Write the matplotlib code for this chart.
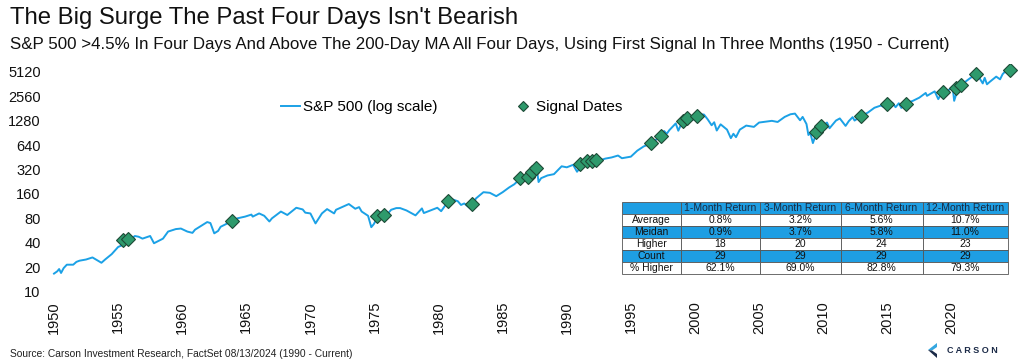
import matplotlib
matplotlib.use("Agg")
import matplotlib.pyplot as plt
from matplotlib.patches import Polygon

# ---------------- data ----------------
spx_years = [1950.0, 1950.25, 1950.4, 1950.55, 1950.75, 1951.0, 1951.25, 1951.5, 1951.75, 1952.0,
             1952.5, 1953.0, 1953.7, 1954.0, 1954.5, 1955.0, 1955.4, 1955.7, 1955.75, 1956.0,
             1956.3, 1956.6, 1956.9, 1957.5, 1957.8, 1958.0, 1958.5, 1958.9, 1959.5, 1959.9,
             1960.4, 1960.8, 1961.0, 1961.5, 1961.95, 1962.2, 1962.5, 1962.8, 1963.0, 1963.5,
             1963.9, 1964.3, 1964.9, 1965.4, 1965.5, 1966.0, 1966.4, 1966.8, 1967.0, 1967.7,
             1968.2, 1968.9, 1969.4, 1969.6, 1970.0, 1970.4, 1970.9, 1971.3, 1971.85, 1972.0,
             1972.9, 1973.0, 1973.5, 1973.8, 1974.0, 1974.5, 1974.75, 1974.95, 1975.25, 1975.5,
             1975.7, 1976.0, 1976.3, 1976.7, 1977.0, 1977.5, 1978.2, 1978.7, 1978.85, 1979.5,
             1979.9, 1980.2, 1980.9, 1981.5, 1981.75, 1982.0, 1982.6, 1982.9, 1983.5, 1984.0,
             1984.5, 1985.0, 1985.5, 1985.9, 1986.3, 1986.7, 1987.0, 1987.65, 1987.8, 1988.0,
             1988.5, 1989.0, 1989.6, 1990.0, 1990.5, 1990.8, 1991.0, 1991.5, 1992.0, 1992.5,
             1993.0, 1993.5, 1994.0, 1994.3, 1995.0, 1995.5, 1996.0, 1996.5, 1997.0, 1997.6,
             1997.8, 1998.0, 1998.5, 1998.7, 1999.0, 1999.5, 1999.8, 2000.2, 2000.7, 2001.0,
             2001.3, 2001.5, 2001.7, 2002.0, 2002.5, 2002.8, 2003.0, 2003.2, 2003.5, 2004.0,
             2004.6, 2005.0, 2006.0, 2006.45, 2007.0, 2007.45, 2007.8, 2008.2, 2008.4, 2008.7,
             2008.85, 2009.0, 2009.2, 2009.5, 2010.0, 2010.3, 2010.5, 2011.0, 2011.3, 2011.75,
             2012.0, 2012.3, 2012.45, 2013.0, 2013.5, 2014.0, 2014.5, 2014.8, 2015.0, 2015.4,
             2015.65, 2015.9, 2016.1, 2016.5, 2017.0, 2017.5, 2018.0, 2018.1, 2018.7, 2018.98,
             2019.3, 2019.6, 2020.1, 2020.22, 2020.5, 2020.8, 2021.0, 2021.5, 2022.0, 2022.45,
             2022.6, 2022.78, 2023.0, 2023.5, 2023.8, 2024.0, 2024.25, 2024.3, 2024.52, 2024.6]
spx_values = [16.7, 17.8, 19.0, 17.0, 19.5, 21.5, 21.5, 21.5, 23.3, 24.1,
              24.9, 26.4, 22.7, 25.0, 29.0, 35.5, 37.9, 45.0, 41.0, 44.0,
              48.5, 47.5, 45.0, 48.5, 39.5, 41.0, 45.0, 55.0, 59.0, 59.9,
              55.0, 53.0, 58.0, 65.0, 72.0, 70.0, 52.3, 56.0, 63.0, 69.0,
              73.0, 80.0, 84.0, 89.0, 84.0, 92.0, 86.0, 73.2, 80.0, 97.0,
              88.0, 108.0, 103.0, 94.0, 92.0, 69.3, 92.0, 104.0, 92.0, 102.0,
              118.0, 120.0, 105.0, 110.0, 97.0, 86.0, 62.3, 68.0, 84.0, 95.0,
              83.0, 90.0, 102.0, 107.0, 107.0, 100.0, 87.0, 106.0, 93.0, 102.0,
              108.0, 98.0, 140.0, 130.0, 117.0, 122.0, 102.0, 140.0, 168.0, 165.0,
              150.0, 168.0, 192.0, 210.0, 240.0, 235.0, 245.0, 335.0, 224.0, 250.0,
              270.0, 280.0, 350.0, 340.0, 365.0, 300.0, 330.0, 375.0, 415.0, 410.0,
              435.0, 450.0, 475.0, 440.0, 460.0, 545.0, 615.0, 660.0, 750.0, 950.0,
              880.0, 975.0, 1180.0, 960.0, 1230.0, 1370.0, 1300.0, 1520.0, 1520.0, 1320.0,
              1120.0, 1220.0, 965.0, 1150.0, 990.0, 777.0, 880.0, 800.0, 990.0, 1110.0,
              1070.0, 1210.0, 1270.0, 1230.0, 1420.0, 1530.0, 1560.0, 1290.0, 1420.0, 1160.0,
              850.0, 900.0, 676.0, 920.0, 1115.0, 1210.0, 1030.0, 1280.0, 1360.0, 1100.0,
              1260.0, 1410.0, 1280.0, 1460.0, 1610.0, 1840.0, 1960.0, 1860.0, 2050.0, 2120.0,
              1870.0, 2090.0, 1830.0, 2100.0, 2240.0, 2450.0, 2800.0, 2580.0, 2930.0, 2350.0,
              2900.0, 2850.0, 3380.0, 2240.0, 3100.0, 3300.0, 3750.0, 4300.0, 4790.0, 3670.0,
              4300.0, 3580.0, 3840.0, 4450.0, 4120.0, 4770.0, 5250.0, 4970.0, 5660.0, 5340.0]

signal_years = [1955.41, 1955.80, 1963.86, 1975.22, 1975.74, 1980.71, 1982.61, 1986.35, 1986.95, 1987.26,
                1987.60, 1991.03, 1991.60, 1991.94, 1992.28, 1996.57, 1997.32, 1999.04, 1999.40, 2000.13,
                2009.44, 2009.80, 2012.97, 2014.95, 2016.46, 2019.37, 2020.36, 2020.77, 2021.92, 2024.57]
signal_values = [43.3, 45.0, 74.0, 85.6, 88.8, 131.0, 120.0, 249.0, 256.0, 294.0,
                 334.0, 372.0, 402.0, 408.0, 419.0, 672.0, 833.0, 1280.0, 1391.0, 1460.0,
                 918.0, 1099.0, 1460.0, 2066.0, 2066.0, 2900.0, 3262.0, 3520.0, 4810.0, 5375.0]

y_ticks = [10, 20, 40, 80, 160, 320, 640, 1280, 2560, 5120]
x_ticks = list(range(1950, 2021, 5))

table_columns = ["", "1-Month Return", "3-Month Return", "6-Month Return", "12-Month Return"]
table_rows = ["Average", "Meidan", "Higher", "Count", "% Higher"]
ret_1m = ["0.8%", "0.9%", "18", "29", "62.1%"]
ret_3m = ["3.2%", "3.7%", "20", "29", "69.0%"]
ret_6m = ["5.6%", "5.8%", "24", "29", "82.8%"]
ret_12m = ["10.7%", "11.0%", "23", "29", "79.3%"]

# ---------------- style ----------------
LINE_BLUE = "#1BA1E6"
TABLE_BLUE = "#1E9EE3"
GREEN = "#2E9A6C"
GREEN_EDGE = "#1D4A36"
ARIAL = ["Liberation Sans", "DejaVu Sans"]

W, H = 1024, 363
fig = plt.figure(figsize=(W / 100, H / 100), dpi=100)

def px_rect(x0, y0, x1, y1):
    return [x0 / W, 1 - y1 / H, (x1 - x0) / W, (y1 - y0) / H]

ax = fig.add_axes(px_rect(47.6, 63.8, 1018, 295.4))
ax.set_yscale("log")
ax.set_xlim(1949.5, 2025.2)
ax.set_ylim(9, 6400)

ax.plot(spx_years, spx_values, color=LINE_BLUE, lw=1.4, label="S&P 500 (log scale)", zorder=2)
ax.plot(signal_years, signal_values, ls="none", marker="D", ms=6.8, mfc=GREEN, mec=GREEN_EDGE,
        mew=0.8, label="Signal Dates", zorder=3)

ax.set_yticks(y_ticks, [str(t) for t in y_ticks])
ax.minorticks_off()
ax.set_xticks(x_ticks, [str(t) for t in x_ticks])
for lab in ax.get_yticklabels():
    lab.set_fontfamily(ARIAL)
    lab.set_fontsize(10.5)
for lab in ax.get_xticklabels():
    lab.set_fontfamily(ARIAL)
    lab.set_fontsize(10.5)
    lab.set_rotation(90)
ax.tick_params(axis="both", length=0, colors="#111111")
ax.tick_params(axis="y", pad=5)
ax.tick_params(axis="x", pad=4)
for s in ax.spines.values():
    s.set_visible(False)

leg = ax.legend(loc="center", bbox_to_anchor=(452 / W, 1 - 107 / H), bbox_transform=fig.transFigure,
                ncol=2, frameon=False, columnspacing=5.0, handlelength=1.2, handletextpad=0.25,
                markerscale=0.75, prop={"family": ARIAL, "size": 11})

# ---------------- titles ----------------
fig.text(10 / W, 1 - 18 / H, "The Big Surge The Past Four Days Isn't Bearish", fontsize=17.2,
         family=ARIAL, va="center", ha="left", color="#111111")
fig.text(10 / W, 1 - 45 / H, "S&P 500 >4.5% In Four Days And Above The 200-Day MA All Four Days, "
         "Using First Signal In Three Months (1950 - Current)", fontsize=12.2,
         family=ARIAL, va="center", ha="left", color="#111111")
fig.text(10 / W, 1 - 354 / H, "Source: Carson Investment Research, FactSet 08/13/2024 (1990 - Current)",
         fontsize=7.4, family=ARIAL, va="center", ha="left", color="#222222")

# ---------------- table ----------------
tax = fig.add_axes(px_rect(622, 201.7, 1007.5, 274))
tax.axis("off")
cell_text = [[r, a, b, c, d] for r, a, b, c, d in zip(table_rows, ret_1m, ret_3m, ret_6m, ret_12m)]
col_w = [59, 79, 80.5, 82, 85]
tot = sum(col_w)
col_w = [c / tot for c in col_w]
tbl = tax.table(cellText=cell_text, colLabels=table_columns, colWidths=col_w,
                cellLoc="center", bbox=[0, 0, 1, 1])
tbl.auto_set_font_size(False)
blue_rows = {0, 2, 4}
for (r, c), cell in tbl.get_celld().items():
    cell.set_linewidth(0.6)
    cell.set_edgecolor("#555555")
    cell.set_facecolor(TABLE_BLUE if r in blue_rows else "white")
    cell.get_text().set_fontsize(7.5)
    cell.get_text().set_fontfamily(ARIAL)
    cell.get_text().set_color("#1a2a40" if r == 0 else "#111111")
    cell.PAD = 0.02

# CARSON logo
fig.patches.append(Polygon([[928 / W, 1 - 350 / H], [937 / W, 1 - 343 / H], [937 / W, 1 - 347 / H],
                            [932 / W, 1 - 350.5 / H]], closed=True, transform=fig.transFigure,
                           facecolor="#35A7E0", edgecolor="none"))
fig.patches.append(Polygon([[928 / W, 1 - 350 / H], [932 / W, 1 - 350.5 / H], [937 / W, 1 - 354 / H],
                            [937 / W, 1 - 358 / H]], closed=True, transform=fig.transFigure,
                           facecolor="#1B2A47", edgecolor="none"))
fig.text(947 / W, 1 - 350.5 / H, "C A R S O N", fontsize=6.5, family=ARIAL, weight="bold",
         color="#1B2A47", va="center", ha="left")

fig.savefig("out.png", dpi=100)
